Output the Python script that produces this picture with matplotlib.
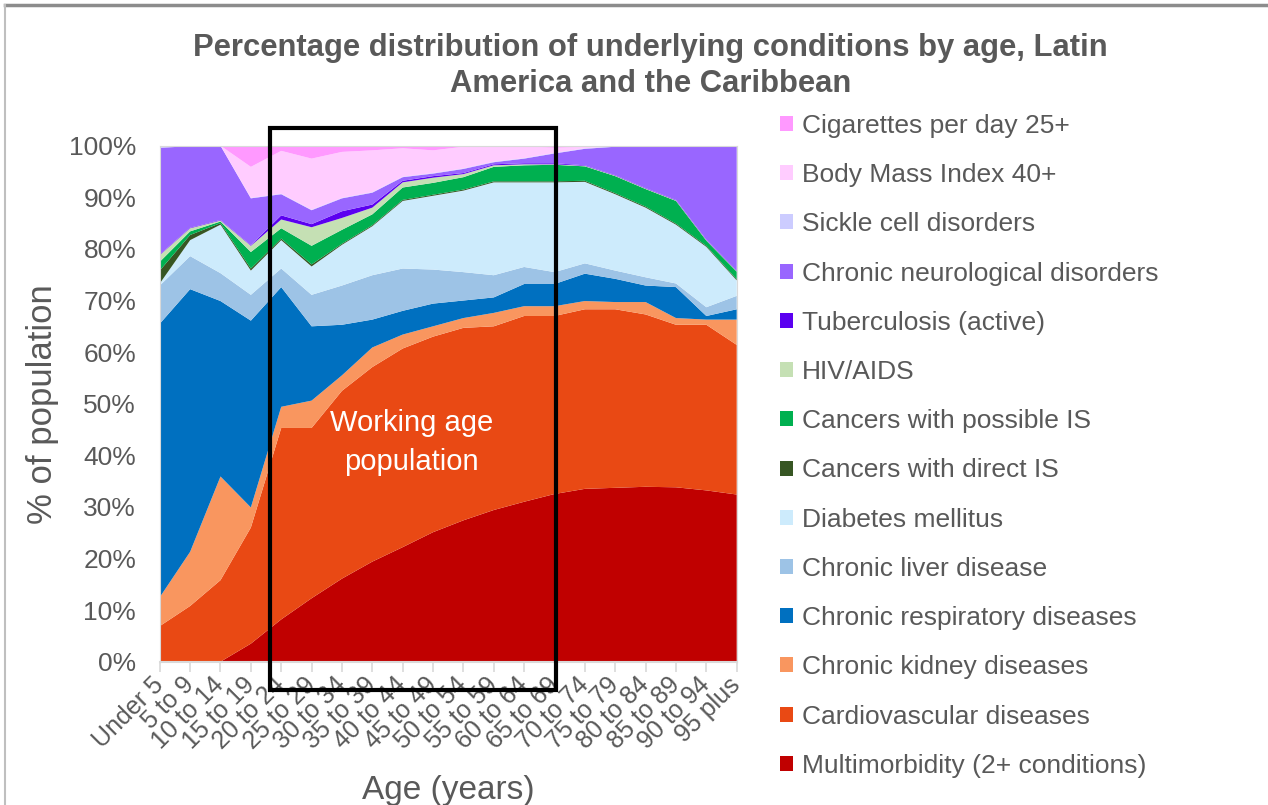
import matplotlib
matplotlib.use("Agg")
import matplotlib.pyplot as plt
import matplotlib.transforms as mtransforms
from matplotlib.patches import Patch, Rectangle
from matplotlib.lines import Line2D

plt.rcParams['font.family'] = ['Liberation Sans', 'DejaVu Sans']

ages = ["Under 5", "5 to 9", "10 to 14", "15 to 19", "20 to 24", "25 to 29",
        "30 to 34", "35 to 39", "40 to 44", "45 to 49", "50 to 54", "55 to 59",
        "60 to 64", "65 to 69", "70 to 74", "75 to 79", "80 to 84", "85 to 89",
        "90 to 94", "95 plus"]

# percent of population, bottom of the stack first
multimorbidity = [0, 0, 0, 3.5, 8.2, 12.3, 16.1, 19.4, 22.2, 25.1, 27.4, 29.4, 31.0, 32.5, 33.5, 33.7, 33.9, 33.8, 33.2, 32.4]
cardiovascular = [6.9, 10.8, 15.8, 22.5, 37.1, 33.0, 36.4, 37.7, 38.5, 37.9, 37.3, 35.6, 36.0, 34.5, 34.8, 34.6, 33.4, 31.5, 32.1, 29.0]
kidney = [5.6, 10.5, 20.1, 3.9, 4.1, 5.3, 3.0, 3.8, 2.7, 2.0, 1.9, 2.6, 1.9, 1.9, 1.6, 1.4, 2.4, 1.3, 1.0, 4.9]
respiratory = [53.0, 50.9, 34.0, 36.2, 23.2, 14.4, 9.8, 5.4, 4.6, 4.4, 3.4, 3.0, 4.3, 4.3, 5.3, 4.5, 3.2, 6.0, 0.7, 2.0]
liver = [7.4, 6.4, 5.4, 5.0, 3.6, 6.1, 7.6, 8.6, 8.2, 6.6, 5.5, 4.3, 3.3, 2.3, 2.0, 1.6, 1.6, 0.7, 1.7, 2.6]
diabetes = [0.4, 3.1, 9.4, 4.7, 5.5, 5.5, 7.9, 9.5, 13.1, 14.3, 15.8, 18.0, 16.4, 17.4, 15.8, 14.8, 13.5, 11.4, 11.7, 3.0]
cancer_direct = [2.5, 1.0, 0.3, 0.4, 0.3, 0.4, 0.2, 0.2, 0.2, 0.2, 0.2, 0.2, 0.2, 0.2, 0.2, 0.2, 0.2, 0.2, 0.2, 0.2]
cancer_possible = [1.7, 0.7, 0.3, 3.2, 2.0, 3.6, 2.7, 2.1, 2.4, 2.3, 2.4, 2.8, 3.1, 3.2, 2.8, 3.3, 3.4, 4.4, 1.0, 1.5]
hiv = [1.3, 0.6, 0.2, 1.2, 1.7, 3.6, 2.3, 1.3, 1.0, 1.0, 0.6, 0.3, 0.2, 0.1, 0.1, 0.1, 0.1, 0.1, 0.1, 0.1]
tuberculosis = [0.1, 0.1, 0.1, 0.1, 0.8, 0.6, 1.3, 0.6, 0.3, 0.3, 0.2, 0.2, 0.2, 0.2, 0.1, 0.1, 0.1, 0.1, 0.1, 0.1]
neurological = [20.7, 15.8, 14.4, 9.1, 4.1, 2.7, 2.5, 2.3, 0.7, 0.5, 0.8, 0.4, 0.9, 1.9, 3.2, 5.5, 8.2, 10.5, 18.2, 24.2]
sickle = [0.1, 0.1, 0, 0.1, 0.1, 0.1, 0.1, 0.1, 0.1, 0.1, 0.1, 0.1, 0.1, 0.1, 0.1, 0.1, 0, 0, 0, 0]
bmi40 = [0, 0, 0, 6.0, 8.3, 9.9, 8.9, 8.1, 5.5, 4.4, 4.2, 3.0, 2.3, 1.0, 0.3, 0.1, 0, 0, 0, 0]
cigarettes = [0, 0, 0, 4.1, 1.0, 2.5, 1.2, 0.9, 0.5, 0.9, 0.2, 0.1, 0.1, 0.4, 0.1, 0, 0, 0, 0, 0]

series = [multimorbidity, cardiovascular, kidney, respiratory, liver, diabetes,
          cancer_direct, cancer_possible, hiv, tuberculosis, neurological,
          sickle, bmi40, cigarettes]
labels = ["Multimorbidity (2+ conditions)", "Cardiovascular diseases",
          "Chronic kidney diseases", "Chronic respiratory diseases",
          "Chronic liver disease", "Diabetes mellitus", "Cancers with direct IS",
          "Cancers with possible IS", "HIV/AIDS", "Tuberculosis (active)",
          "Chronic neurological disorders", "Sickle cell disorders",
          "Body Mass Index 40+", "Cigarettes per day 25+"]
colors = ["#C00000", "#E94914", "#F9965F", "#0070C0", "#9DC3E6", "#CDEBFC",
          "#375623", "#00B050", "#C5E0B4", "#5B00F0", "#9966FF", "#CCCCFF",
          "#FFCCFF", "#FF99FF"]

grey = "#595959"
x = list(range(len(ages)))

fig = plt.figure(figsize=(12.68, 8.05), dpi=100)
ax = fig.add_axes([0.126, 0.178, 0.455, 0.641])
ax.stackplot(x, *series, colors=colors, labels=labels, linewidth=0)

ax.set_xlim(0, len(ages) - 1)
ax.set_ylim(0, 100)
ax.set_yticks(range(0, 101, 10))
ax.set_yticklabels([f"{v}%" for v in range(0, 101, 10)], fontsize=19, color=grey)
ax.tick_params(axis='y', length=0, pad=17)
ax.set_xticks(x)
ax.set_xticklabels(ages, rotation=45, ha='right', va='center',
                   rotation_mode='anchor', fontsize=18, color=grey)
ax.tick_params(axis='x', length=7, color="#D9D9D9", width=1.2, pad=7)
for side in ax.spines:
    ax.spines[side].set_color("#D9D9D9")
ax.spines['bottom'].set_linewidth(1.5)

ax.set_ylabel("% of population", fontsize=25, color=grey, labelpad=7)
ax.set_xlabel("Age (years)", fontsize=24, color=grey, labelpad=15)

fig.text(0.513, 0.959, "Percentage distribution of underlying conditions by age, Latin\nAmerica and the Caribbean",
         ha='center', va='top', fontsize=22.3, fontweight='bold', color=grey, linespacing=1.24)

# working age box
trans = mtransforms.blended_transform_factory(ax.transData, ax.transAxes)
ax.add_patch(Rectangle((3.62, -0.054), 9.42, 1.089, transform=trans, fill=False,
                       edgecolor='black', linewidth=3, clip_on=False, zorder=5))
ax.text(8.3, 42.5, "Working age\npopulation", ha='center', va='center', color='white',
        fontsize=21, linespacing=1.5,
        family=['Liberation Sans Narrow', 'Liberation Sans', 'DejaVu Sans'])

handles = [Patch(facecolor=c, edgecolor='none') for c in colors][::-1]
fig.legend(handles, labels[::-1], loc='upper left', bbox_to_anchor=(0.6045, 0.875),
           frameon=False, fontsize=19, labelcolor=grey, handlelength=0.5,
           handleheight=0.5, handletextpad=0.33, labelspacing=0.956, borderpad=0)

# slide frame edges
fig.add_artist(Line2D([0.004, 1], [0.994, 0.994], color="#8C8C8C", lw=2.5))
fig.add_artist(Line2D([0.004, 0.004], [0, 0.994], color="#BFBFBF", lw=1.5))

fig.savefig("out.png", dpi=100)
